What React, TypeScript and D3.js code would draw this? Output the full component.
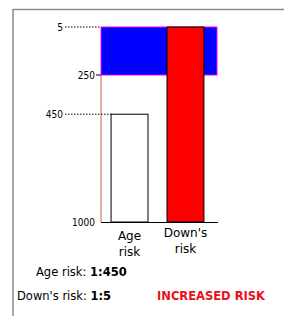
import React from 'react';
import {scaleLinear, scaleBand} from 'd3';

// risk is "1 in N", so smaller N = higher risk (top of the chart)
const categories = ['Age risk', "Down's risk"];
const riskValues = [450, 5];
const axisTicks = [250, 1000];
const cutoff = 250;
const yDomain = [5, 1000];
const verdict = 'INCREASED RISK';

const W = 284;
const H = 316;
const axisX = 101;
const axisRight = 218;
const condensed = "'DejaVu Sans Condensed', 'DejaVu Sans', sans-serif";
const regular = "'DejaVu Sans', sans-serif";

export default function App() {
  const y = scaleLinear().domain(yDomain).range([27, 222]);
  const x = scaleBand<string>()
    .domain(categories)
    .range([axisX, 214])
    .paddingInner(0.34)
    .paddingOuter(0.18);
  const bw = x.bandwidth();
  const base = y(yDomain[1]);

  return (
    <svg
      width={W}
      height={H}
      style={{position: 'absolute', left: 0, top: 0, background: '#fff'}}
      fontFamily={condensed}
    >
      {/* frame */}
      <line x1={13} y1={9.5} x2={W} y2={9.5} stroke="#8a8a8a" strokeWidth={1.5} />
      <line x1={13} y1={9} x2={13} y2={H} stroke="#8a8a8a" strokeWidth={1.5} />

      {/* high risk zone */}
      <rect
        x={axisX}
        y={y(yDomain[0])}
        width={axisRight - axisX - 1}
        height={y(cutoff) - y(yDomain[0])}
        fill="#0000ff"
        stroke="#ff00ff"
        strokeWidth={1}
      />

      {/* bars */}
      {categories.map((c, i) => (
        <rect
          key={c}
          x={x(c)}
          y={y(riskValues[i])}
          width={bw}
          height={base - y(riskValues[i])}
          fill={i === 1 ? '#ff0000' : '#fff'}
          stroke="#000"
          strokeWidth={1}
        />
      ))}

      {/* axis */}
      <line x1={axisX} y1={y(cutoff)} x2={axisX} y2={base} stroke="#c8643c" strokeWidth={1} />
      <line x1={axisX} y1={base + 0.5} x2={axisRight} y2={base + 0.5} stroke="#000" strokeWidth={1} />

      {axisTicks.map(t => (
        <g key={t}>
          {t !== yDomain[1] && (
            <line x1={96} x2={axisX} y1={y(t)} y2={y(t)} stroke="#000" strokeWidth={1} />
          )}
          <text x={95} y={y(t)} dy="0.35em" textAnchor="end" fontSize={10} fill="#000">
            {t}
          </text>
        </g>
      ))}

      {/* risk markers with dotted leaders */}
      {riskValues.map((v, i) => {
        const end = i === 0 ? (x(categories[i]) as number) : axisX;
        return (
          <g key={i}>
            <line
              x1={65}
              x2={end}
              y1={y(v)}
              y2={y(v)}
              stroke="#000"
              strokeWidth={1}
              strokeDasharray="1.5 1.5"
            />
            <text x={63} y={y(v)} dy="0.35em" textAnchor="end" fontSize={10} fill="#000">
              {v}
            </text>
          </g>
        );
      })}

      {/* category labels */}
      {categories.map(c => {
        const [a, b] = c.split(' ');
        const cx = (x(c) as number) + bw / 2;
        return (
          <text key={c} x={cx} textAnchor="middle" fontSize={12} fontFamily={regular} fill="#000">
            <tspan x={cx} y={c === categories[0] ? 240 : 237}>{a}</tspan>
            <tspan x={cx} dy={16}>{b}</tspan>
          </text>
        );
      })}

      {/* summary */}
      <g fontFamily={regular} fontSize={11.5}>
        <text x={36} y={276} fill="#000">
          {categories[0]}: <tspan fontWeight="bold">1:{riskValues[0]}</tspan>
        </text>
        <text x={17} y={300} fill="#000">
          {categories[1]}: <tspan fontWeight="bold">1:{riskValues[1]}</tspan>
        </text>
        <text x={157} y={300} fontWeight="bold" fill="#e8101a">
          {verdict}
        </text>
      </g>
    </svg>
  );
}
